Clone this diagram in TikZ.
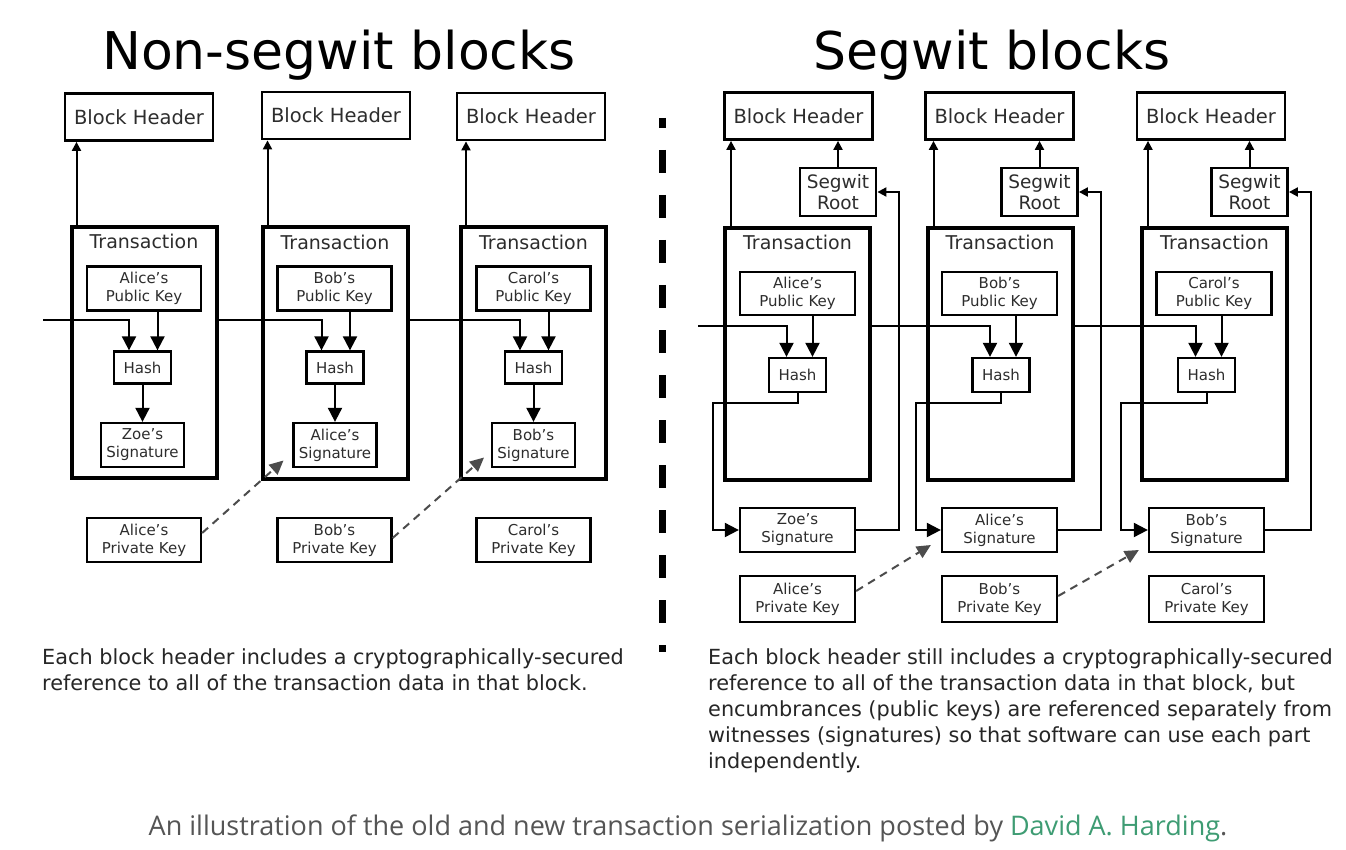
\documentclass[tikz,border=0pt]{standalone}
\usepackage{fontspec}
\setmainfont{DejaVu Sans}
\newfontfamily\creditfont{Open Sans}
\usetikzlibrary{arrows.meta,positioning}
\definecolor{linkgreen}{RGB}{62,156,115}
\definecolor{creditgray}{RGB}{85,85,85}
\definecolor{boxgray}{RGB}{45,45,45}

\begin{document}
\begin{tikzpicture}[x=1pt,y=-1pt]
	\tikzset{HeaderStyle/.style =
		{draw,
			line width = 2.8pt,
			minimum width = 148pt,
			minimum height = 47pt,
			inner sep = 0pt,
			text = boxgray,
			font = \fontsize{19.5}{22}\selectfont}}
	\tikzset{TxStyle/.style =
		{draw,
			line width = 4pt,
			minimum width = 145pt,
			minimum height = 251pt}}
	\tikzset{TxLabelStyle/.style =
		{inner sep = 0pt,
			text = boxgray,
			font = \fontsize{19}{22}\selectfont}}
	\tikzset{InnerStyle/.style =
		{draw,
			line width = 2.3pt,
			minimum width = 114pt,
			minimum height = 44pt,
			inner sep = 0pt,
			align = center,
			text = boxgray,
			font = \fontsize{15}{18}\selectfont}}
	\tikzset{HashStyle/.style =
		{InnerStyle,
			minimum width = 57pt,
			minimum height = 32pt}}
	\tikzset{RootStyle/.style =
		{InnerStyle,
			line width = 2.8pt,
			minimum width = 76pt,
			minimum height = 48pt,
			font = \fontsize{18.5}{21}\selectfont}}
	\tikzset{TitleStyle/.style =
		{anchor = base,
			inner sep = 0pt,
			font = \fontsize{52}{60}\selectfont}}
	\tikzset{NoteStyle/.style =
		{anchor = north west,
			align = left,
			inner sep = 0pt,
			text = black!85,
			font = \fontsize{20.8}{26}\selectfont}}
	\tikzset{ArrowStyle/.style =
		{line width = 2pt,
			-{Triangle[width=14pt,length=14pt]}}}
	\tikzset{SmallArrowStyle/.style =
		{line width = 2pt,
			-{Triangle[width=9pt,length=9pt]}}}
	\tikzset{DashStyle/.style =
		{line width = 2pt,
			draw = black!70,
			dash pattern = on 8pt off 6pt,
			-{Triangle[width=13pt,length=14pt]}}}
	\fill[white] (0,0) rectangle (1346,850);
	\useasboundingbox (0,0) rectangle (1346,850);

	% non-segwit blocks
	\node[TitleStyle] (LTitle) at (339,70) {Non-segwit blocks};
	\node[HeaderStyle] (LBH1) at (139,117) {Block Header};
	\node[HeaderStyle] (LBH2) at (336,115.5) {Block Header};
	\node[HeaderStyle] (LBH3) at (531,116.5) {Block Header};
	\node[TxStyle] (LTx1) at (144,352.5) {};
	\node[TxStyle] (LTx2) at (335,353) {};
	\node[TxStyle] (LTx3) at (533.5,353) {};
	\node[TxLabelStyle, below=9pt of LTx1.north] (LTxLabel1) {Transaction};
	\node[TxLabelStyle, below=9pt of LTx2.north] (LTxLabel2) {Transaction};
	\node[TxLabelStyle, below=9pt of LTx3.north] (LTxLabel3) {Transaction};
	\node[InnerStyle] (LPub1) at (144,288.5) {Alice's\\Public Key};
	\node[InnerStyle] (LPub2) at (334.5,288.5) {Bob's\\Public Key};
	\node[InnerStyle] (LPub3) at (533.5,288.5) {Carol's\\Public Key};
	\node[HashStyle] (LHash1) at (142.5,367.5) {Hash};
	\node[HashStyle] (LHash2) at (335,367.5) {Hash};
	\node[HashStyle] (LHash3) at (533.5,367.5) {Hash};
	\node[InnerStyle, minimum width=83pt] (LSig1) at (142.5,445) {Zoe's\\Signature};
	\node[InnerStyle, minimum width=83pt] (LSig2) at (335,445) {Alice's\\Signature};
	\node[InnerStyle, minimum width=83pt] (LSig3) at (533.5,445) {Bob's\\Signature};
	\node[InnerStyle] (LPriv1) at (144,540) {Alice's\\Private Key};
	\node[InnerStyle] (LPriv2) at (334.5,540) {Bob's\\Private Key};
	\node[InnerStyle] (LPriv3) at (533.5,540) {Carol's\\Private Key};
	\coordinate (LIn) at (43,320);
	\draw[SmallArrowStyle] ([xshift=7pt]LTx1.north west) -- ([xshift=7pt]LTx1.north west |- LBH1.south);
	\draw[SmallArrowStyle] ([xshift=7pt]LTx2.north west) -- ([xshift=7pt]LTx2.north west |- LBH2.south);
	\draw[SmallArrowStyle] ([xshift=7pt]LTx3.north west) -- ([xshift=7pt]LTx3.north west |- LBH3.south);
	\draw[ArrowStyle] (LIn) -| ([xshift=-13.5pt]LHash1.north);
	\draw[ArrowStyle] (LTx1.east |- LIn) -| ([xshift=-13.5pt]LHash2.north);
	\draw[ArrowStyle] (LTx2.east |- LIn) -| ([xshift=-13.5pt]LHash3.north);
	\draw[ArrowStyle] ([xshift=15pt]LHash1.north |- LPub1.south) -- ([xshift=15pt]LHash1.north);
	\draw[ArrowStyle] ([xshift=15pt]LHash2.north |- LPub2.south) -- ([xshift=15pt]LHash2.north);
	\draw[ArrowStyle] ([xshift=15pt]LHash3.north |- LPub3.south) -- ([xshift=15pt]LHash3.north);
	\draw[ArrowStyle] (LHash1) -- (LSig1);
	\draw[ArrowStyle] (LHash2) -- (LSig2);
	\draw[ArrowStyle] (LHash3) -- (LSig3);
	\draw[DashStyle] ([yshift=7pt]LPriv1.east) -- ([xshift=23pt,yshift=20pt]LTx2.south west);
	\draw[DashStyle] ([yshift=2pt]LPriv2.east) -- ([xshift=25pt,yshift=23pt]LTx3.south west);
	\node[NoteStyle] (LNote) at (42,648.5) {Each block header includes a cryptographically-secured\\reference to all of the transaction data in that block.};

	% divider
	\draw[line width=7pt, dash pattern=on 23pt off 22pt, dash phase=13pt] (662,118) -- (662,652);

	% segwit blocks
	\node[TitleStyle] (RTitle) at (992,70) {Segwit blocks};
	\node[HeaderStyle] (RBH1) at (798.5,116) {Block Header};
	\node[HeaderStyle] (RBH2) at (999.5,116) {Block Header};
	\node[HeaderStyle] (RBH3) at (1211,116) {Block Header};
	\node[RootStyle] (RRoot1) at (838,192) {Segwit\\Root};
	\node[RootStyle] (RRoot2) at (1039.5,192) {Segwit\\Root};
	\node[RootStyle] (RRoot3) at (1249.5,192) {Segwit\\Root};
	\node[TxStyle, minimum height=252pt] (RTx1) at (797.5,354) {};
	\node[TxStyle, minimum height=252pt] (RTx2) at (1000,354) {};
	\node[TxStyle, minimum height=252pt] (RTx3) at (1214.5,354) {};
	\node[TxLabelStyle, below=9pt of RTx1.north] (RTxLabel1) {Transaction};
	\node[TxLabelStyle, below=9pt of RTx2.north] (RTxLabel2) {Transaction};
	\node[TxLabelStyle, below=9pt of RTx3.north] (RTxLabel3) {Transaction};
	\node[InnerStyle, minimum width=115pt, minimum height=43pt] (RPub1) at (797.5,293.5) {Alice's\\Public Key};
	\node[InnerStyle, minimum width=115pt, minimum height=43pt] (RPub2) at (999.5,293.5) {Bob's\\Public Key};
	\node[InnerStyle, minimum width=115pt, minimum height=43pt] (RPub3) at (1214,293.5) {Carol's\\Public Key};
	\node[HashStyle, minimum height=34pt] (RHash1) at (797.5,375) {Hash};
	\node[HashStyle, minimum height=34pt] (RHash2) at (1001,375) {Hash};
	\node[HashStyle, minimum height=34pt] (RHash3) at (1206.5,375) {Hash};
	\node[InnerStyle, minimum width=115pt] (RSig1) at (797.5,530) {Zoe's\\Signature};
	\node[InnerStyle, minimum width=115pt] (RSig2) at (999.5,530) {Alice's\\Signature};
	\node[InnerStyle, minimum width=115pt] (RSig3) at (1206.5,530) {Bob's\\Signature};
	\node[InnerStyle, minimum width=115pt, minimum height=46pt] (RPriv1) at (797.5,599) {Alice's\\Private Key};
	\node[InnerStyle, minimum width=115pt, minimum height=46pt] (RPriv2) at (999.5,599) {Bob's\\Private Key};
	\node[InnerStyle, minimum width=115pt, minimum height=46pt] (RPriv3) at (1206.5,599) {Carol's\\Private Key};
	\coordinate (RIn) at (698,326);
	\coordinate (RBend1) at (713,403);
	\coordinate (RBend2) at (916,403);
	\coordinate (RBend3) at (1121,403);
	\draw[SmallArrowStyle] ([xshift=8pt]RTx1.north west) -- ([xshift=8pt]RTx1.north west |- RBH1.south);
	\draw[SmallArrowStyle] ([xshift=8pt]RTx2.north west) -- ([xshift=8pt]RTx2.north west |- RBH2.south);
	\draw[SmallArrowStyle] ([xshift=8pt]RTx3.north west) -- ([xshift=8pt]RTx3.north west |- RBH3.south);
	\draw[SmallArrowStyle] (RRoot1.north) -- (RRoot1.north |- RBH1.south);
	\draw[SmallArrowStyle] (RRoot2.north) -- (RRoot2.north |- RBH2.south);
	\draw[SmallArrowStyle] (RRoot3.north) -- (RRoot3.north |- RBH3.south);
	\draw[ArrowStyle] (RIn) -| ([xshift=-11pt]RHash1.north);
	\draw[ArrowStyle] (RTx1.east |- RIn) -| ([xshift=-11pt]RHash2.north);
	\draw[ArrowStyle] (RTx2.east |- RIn) -| ([xshift=-11pt]RHash3.north);
	\draw[ArrowStyle] ([xshift=15pt]RHash1.north |- RPub1.south) -- ([xshift=15pt]RHash1.north);
	\draw[ArrowStyle] ([xshift=15pt]RHash2.north |- RPub2.south) -- ([xshift=15pt]RHash2.north);
	\draw[ArrowStyle] ([xshift=15pt]RHash3.north |- RPub3.south) -- ([xshift=15pt]RHash3.north);
	\draw[ArrowStyle] (RHash1.south) |- (RBend1) |- (RSig1.west);
	\draw[ArrowStyle] (RHash2.south) |- (RBend2) |- (RSig2.west);
	\draw[ArrowStyle] (RHash3.south) |- (RBend3) |- (RSig3.west);
	\draw[SmallArrowStyle] (RSig1.east) -| ([xshift=22pt]RRoot1.east) -- (RRoot1.east);
	\draw[SmallArrowStyle] (RSig2.east) -| ([xshift=22pt]RRoot2.east) -- (RRoot2.east);
	\draw[SmallArrowStyle] (RSig3.east) -| ([xshift=22pt]RRoot3.east) -- (RRoot3.east);
	\draw[DashStyle] ([yshift=8pt]RPriv1.east) -- ([xshift=-10pt,yshift=-15pt]RSig2.west);
	\draw[DashStyle] ([yshift=3pt]RPriv2.east) -- ([xshift=-9pt,yshift=-20pt]RSig3.west);
	\node[NoteStyle] (RNote) at (708,648.5) {Each block header still includes a cryptographically-secured\\reference to all of the transaction data in that block, but\\encumbrances (public keys) are referenced separately from\\witnesses (signatures) so that software can use each part\\independently.};

	% credit line
	\node[anchor=base, inner sep=0pt, text=creditgray, font=\creditfont\fontsize{27}{30}\selectfont] (Credit) at (688,835) {An illustration of the old and new transaction serialization posted by \textcolor{linkgreen}{David A. Harding}.};
\end{tikzpicture}
\end{document}
